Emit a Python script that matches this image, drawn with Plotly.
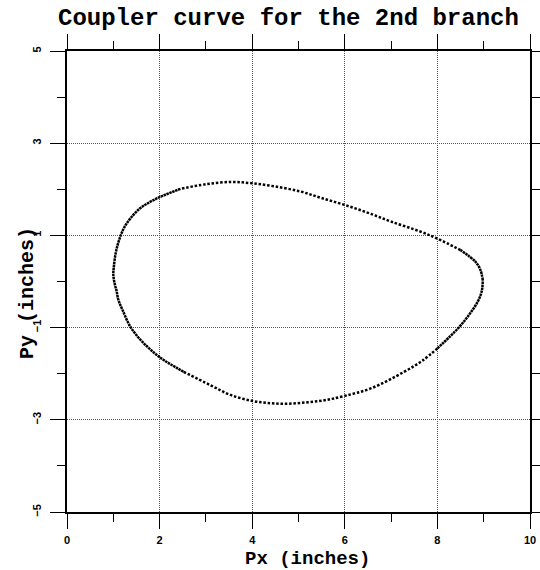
import plotly.graph_objects as go

# Coupler point path (inches), traced once around the loop
px = [8.98, 8.93, 8.82, 8.50, 8.00, 7.64, 7.00, 6.50, 6.00, 5.50, 5.05, 4.50,
      4.00, 3.55, 3.00, 2.45, 2.00, 1.75, 1.58, 1.37, 1.24, 1.16, 1.09, 1.04,
      1.01, 1.00, 1.03, 1.07, 1.11, 1.20, 1.38, 1.65, 2.00, 2.52, 3.10, 3.53,
      4.00, 4.40, 4.79, 5.20, 5.60, 6.00, 6.56, 7.28, 7.70, 8.00, 8.46, 8.70,
      8.88, 8.96, 8.98]
py = [0.03, 0.25, 0.43, 0.68, 0.93, 1.08, 1.30, 1.49, 1.66, 1.81, 1.95, 2.06,
      2.13, 2.16, 2.11, 2.01, 1.83, 1.70, 1.59, 1.37, 1.18, 1.00, 0.78, 0.55,
      0.30, 0.15, -0.05, -0.20, -0.40, -0.62, -1.00, -1.33, -1.64, -1.96,
      -2.25, -2.46, -2.59, -2.64, -2.65, -2.62, -2.57, -2.48, -2.32, -1.96,
      -1.70, -1.45, -1.00, -0.70, -0.42, -0.20, 0.03]

x_major = [0, 2, 4, 6, 8, 10]
x_minor = [1, 3, 5, 7, 9]
y_major = [-5, -3, -1, 1, 3, 5]
y_minor = [-4, -2, 0, 2, 4]

title_text = "Coupler curve for the 2nd branch"
x_label = "Px (inches)"
y_label = "Py (inches)"

mono = "Liberation Mono, Courier New, monospace"
tick_font = dict(family="Liberation Sans, Arial", size=11, color="black", weight="bold")

# consecutive stretches of the path (sharing end points); where the sampled
# points crowd together the dots merge into an almost solid stroke
segments = [
    (0, 3, "dense"),
    (3, 15, "sparse"),
    (15, 33, "dense"),
    (33, 45, "sparse"),
    (45, 50, "dense"),
]
dash_for = {"dense": "2.5px,0.6px", "sparse": "2.5px,1.8px"}

fig = go.Figure()
for start, stop, kind in segments:
    fig.add_trace(go.Scatter(
        x=px[start:stop + 1], y=py[start:stop + 1], mode="lines",
        line=dict(color="black", width=2.5, dash=dash_for[kind],
                  shape="spline", smoothing=1.0),
        hoverinfo="skip", showlegend=False,
    ))

axis_common = dict(
    ticks="outside", ticklen=15, tickwidth=1, tickcolor="black",
    showline=True, linewidth=2, linecolor="black", mirror="ticks",
    showgrid=True, gridcolor="#555555", gridwidth=1, griddash="1px,1px",
    zeroline=False, tickfont=tick_font, fixedrange=True, automargin=False,
)

fig.update_xaxes(
    range=[0, 10], tickmode="array", tickvals=x_major, ticklabelstandoff=2,
    minor=dict(tickmode="array", tickvals=x_minor, ticks="outside", ticklen=8,
               tickwidth=1, tickcolor="black", showgrid=False),
    **axis_common,
)
fig.update_yaxes(
    range=[-5, 5], tickmode="array", tickvals=y_major, tickangle=-90,
    ticklabelstandoff=5,
    minor=dict(tickmode="array", tickvals=y_minor, ticks="outside", ticklen=8,
               tickwidth=1, tickcolor="black", showgrid=False),
    **axis_common,
)

fig.update_layout(
    width=540, height=570, autosize=False,
    margin=dict(l=67, r=10, t=51, b=58, autoexpand=False),
    paper_bgcolor="white", plot_bgcolor="white",
    annotations=[
        dict(text=title_text, xref="paper", yref="paper", x=0.478, y=1.0,
             yshift=33, xanchor="center", yanchor="middle", showarrow=False,
             font=dict(family=mono, size=24, color="black", weight="bold")),
        dict(text=x_label, xref="paper", yref="paper", x=0.52, y=0.0,
             yshift=-47, xanchor="center", yanchor="middle", showarrow=False,
             font=dict(family=mono, size=19, color="black", weight="bold")),
        dict(text=y_label, xref="paper", yref="paper", x=0.0, y=0.475,
             xshift=-40, xanchor="center", yanchor="middle", showarrow=False,
             textangle=-90,
             font=dict(family=mono, size=20, color="black", weight="bold")),
    ],
)

fig.write_html("out.html")
